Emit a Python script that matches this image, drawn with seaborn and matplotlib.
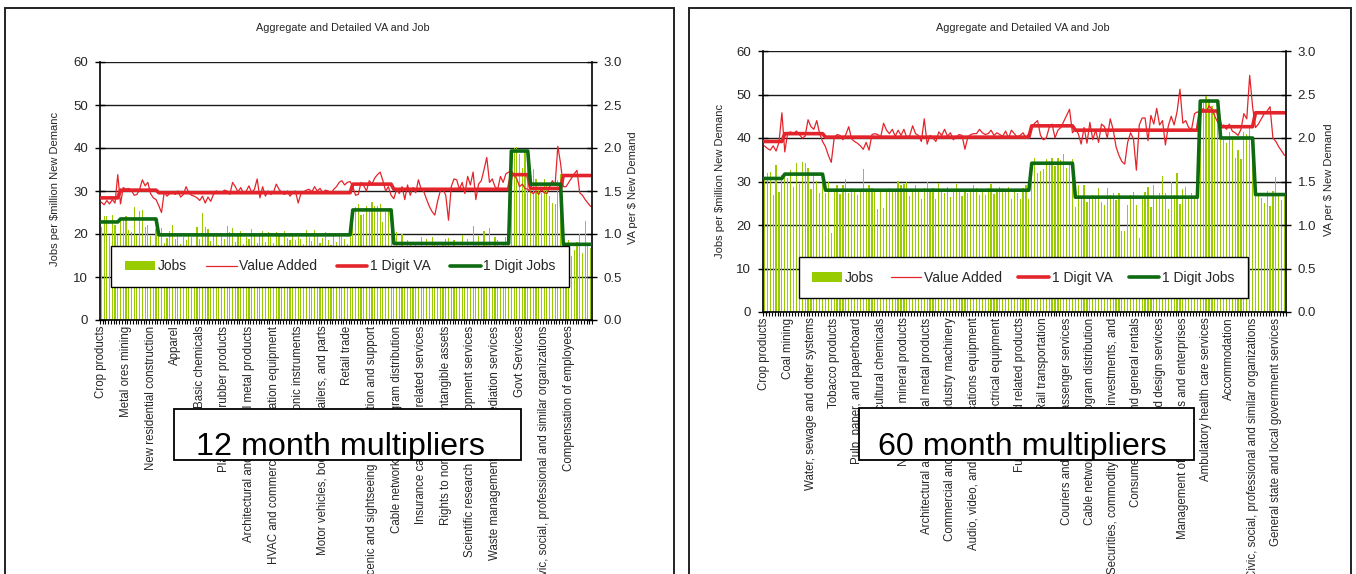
import numpy as np
import matplotlib
matplotlib.use("Agg")
import matplotlib.pyplot as plt
import seaborn as sns
from matplotlib.patches import Rectangle, Patch
from matplotlib.lines import Line2D

sns.set_style("white")
plt.rcParams["font.family"] = ["Liberation Sans", "DejaVu Sans"]

# ---------------------------------------------------------------- data
title = "Aggregate and Detailed VA and Job"
ylab_left = "Jobs per $million New Demanc"
ylab_right = "VA per $ New Demand"
legend_labels = ["Jobs", "Value Added", "1 Digit VA", "1 Digit Jobs"]
notes = ["12 month multipliers", "60 month multipliers"]

# sector groups (number of detailed sectors in each 1-digit group)
group_sizes = [7, 14, 71, 15, 43, 7, 12, 11]

# ---- 12 month panel
labels_12 = ["Crop products", "Metal ores mining", "New residential construction",
             "Apparel", "Basic chemicals", "Plastics and rubber products",
             "Architectural and structural metal products",
             "HVAC and commercial refrigeration equipment", "Electronic instruments",
             "Motor vehicles, bodies and trailers, and parts", "Retail trade",
             "Scenic and sightseeing transportation and support",
             "Cable networks and program distribution",
             "Insurance carriers and related services",
             "Rights to nonfinancial intangible assets",
             "Scientific research and development services",
             "Waste management and remediation services", "Govt Services",
             "Civic, social, professional and similar organizations",
             "Compensation of employees"]
jobs_12 = [
    21.7, 24.1, 24.3, 19.5, 24.5, 22.0, 19.8,
    23.6, 23.5, 24.3, 20.9, 20.5, 26.2, 19.8, 25.3, 25.6, 21.6, 22.0, 19.6, 17.5, 21.2,
    19.5, 21.4, 17.8, 19.0, 20.6, 22.2, 18.9, 20.3, 17.6, 19.2,
    18.5, 20.1, 19.4, 17.2, 21.6, 18.8, 24.8, 21.7, 21.2, 18.3,
    19.9, 20.3, 17.5, 19.6, 18.9, 21.9, 20.5, 21.5, 18.1, 19.7,
    20.6, 17.6, 19.4, 18.8, 21.2, 20.1, 17.9, 19.5, 20.6, 18.2,
    20.5, 19.3, 18.0, 20.4, 19.8, 17.4, 20.6, 19.0, 18.5, 20.3,
    18.7, 19.2, 18.9, 17.6, 20.9, 19.4, 18.3, 21.0, 19.6, 17.8,
    19.1, 20.4, 18.6, 17.5, 19.8, 18.2, 20.0, 19.4, 18.8, 17.6, 19.3,
    24.0, 26.2, 27.0, 24.4, 24.6, 26.6, 25.6, 27.5, 26.5, 26.4, 27.0, 22.8, 25.2, 26.1, 25.3,
    15.8, 20.5, 17.2, 20.1, 16.4, 18.6, 17.9, 16.8, 18.2, 15.9,
    19.4, 17.0, 18.8, 16.2, 19.2, 17.6, 18.1, 16.5, 17.4, 18.8,
    19.0, 16.9, 18.5, 17.1, 16.8, 19.8, 17.3, 18.9, 16.6, 21.8,
    17.5, 19.6, 16.9, 20.6, 18.2, 21.3, 17.0, 19.2, 18.5, 16.8, 17.9, 19.4, 18.0,
    34.5, 39.9, 40.3, 38.6, 35.3, 39.1, 37.8,
    33.5, 35.2, 32.8, 30.6, 29.6, 32.9, 31.8, 28.8, 27.2, 26.9, 32.5, 34.0,
    16.1, 15.2, 18.5, 14.8, 16.3, 18.2, 20.1, 15.6, 23.1, 17.4, 16.8]
va_12 = [
    1.37, 1.34, 1.39, 1.35, 1.40, 1.36, 1.69, 1.35, 1.54, 1.52,
    1.53, 1.51, 1.45, 1.46, 1.52, 1.63, 1.56, 1.60, 1.47, 1.42,
    1.40, 1.33, 1.25, 1.49, 1.44, 1.47, 1.49, 1.46, 1.50, 1.43,
    1.46, 1.55, 1.48, 1.45, 1.44, 1.42, 1.39, 1.44, 1.36, 1.43,
    1.38, 1.46, 1.50, 1.49, 1.48, 1.51, 1.50, 1.46, 1.60, 1.55,
    1.49, 1.54, 1.47, 1.50, 1.56, 1.48, 1.52, 1.64, 1.42, 1.55,
    1.44, 1.50, 1.46, 1.49, 1.58, 1.52, 1.48, 1.46, 1.50, 1.44,
    1.48, 1.50, 1.36, 1.47, 1.49, 1.51, 1.52, 1.49, 1.55, 1.50,
    1.53, 1.48, 1.51, 1.50, 1.47, 1.52, 1.55, 1.60, 1.62, 1.57,
    1.60, 1.61, 1.55, 1.45, 1.46, 1.60, 1.56, 1.50, 1.62, 1.58,
    1.65, 1.69, 1.72, 1.62, 1.50, 1.55, 1.45, 1.41, 1.52, 1.47,
    1.55, 1.40, 1.57, 1.45, 1.54, 1.48, 1.63, 1.52, 1.49, 1.40,
    1.32, 1.26, 1.22, 1.38, 1.50, 1.52, 1.45, 1.16, 1.55, 1.64,
    1.63, 1.52, 1.60, 1.47, 1.67, 1.57, 1.72, 1.40, 1.58, 1.62,
    1.75, 1.89, 1.60, 1.64, 1.55, 1.52, 1.67, 1.60, 1.70, 1.72,
    1.74, 1.68, 1.64, 1.55, 1.58, 1.53, 1.52, 1.49, 1.47, 1.50,
    1.46, 1.52, 1.48, 1.47, 1.55, 1.62, 1.57, 2.02, 1.82, 1.55,
    1.55, 1.60, 1.65, 1.70, 1.74, 1.48, 1.45, 1.40, 1.36, 1.32]
group_jobs_12 = [22.8, 23.5, 19.8, 25.6, 17.8, 39.3, 31.6, 17.6]
group_va_12 = [1.42, 1.51, 1.48, 1.58, 1.52, 1.69, 1.53, 1.68]

# ---- 60 month panel
labels_60 = ["Crop products", "Coal mining", "Water, sewage and other systems",
             "Tobacco products", "Pulp, paper, and paperboard", "Agricultural chemicals",
             "Nonmetallic mineral products", "Architectural and structural metal products",
             "Commercial and service industry machinery",
             "Audio, video, and communications equipment", "Electrical equipment",
             "Furniture and related products", "Rail transportation",
             "Couriers and ground passenger services",
             "Cable networks and program distribution",
             "Securities, commodity contracts, investments, and",
             "Consumer goods and general rentals", "Specialized design services",
             "Management of companies and enterprises",
             "Ambulatory health care services", "Accommodation",
             "Civic, social, professional and similar organizations",
             "General state and local government services"]
jobs_60 = [
    30.8, 31.9, 32.1, 26.9, 33.7, 27.7, 31.5,
    32.0, 30.8, 32.6, 28.7, 34.2, 29.4, 34.4, 34.2, 33.1, 28.3, 31.4, 30.2, 27.3, 31.0,
    27.4, 29.8, 18.1, 27.8, 29.3, 27.2, 29.1, 30.5, 27.4, 28.6,
    28.2, 26.8, 28.1, 32.8, 27.7, 29.3, 28.5, 27.7, 23.7, 28.2,
    23.9, 28.0, 28.6, 28.2, 27.5, 30.2, 29.2, 29.5, 30.0, 26.6,
    28.1, 29.1, 28.0, 25.9, 28.5, 29.8, 27.8, 28.4, 26.0, 29.7,
    28.0, 27.3, 28.7, 26.5, 28.3, 29.4, 27.6, 26.6, 28.2, 27.4,
    27.9, 29.3, 28.6, 27.0, 28.1, 26.9, 28.4, 29.4, 27.1, 27.6,
    28.8, 28.5, 27.9, 28.7, 25.9, 28.2, 27.3, 26.0, 28.6, 29.1, 26.0,
    32.4, 35.4, 31.9, 32.5, 32.8, 35.2, 34.7, 35.5, 33.6, 35.4, 34.9, 36.3, 33.0, 34.4, 35.1,
    24.1, 29.3, 26.2, 29.3, 25.3, 26.0, 27.0, 26.5, 28.4, 25.2,
    24.6, 28.5, 26.9, 27.4, 25.8, 27.3, 18.7, 18.7, 24.6, 27.0,
    27.5, 24.7, 17.0, 26.2, 27.6, 28.8, 24.1, 29.2, 26.3, 27.4,
    31.2, 27.3, 23.6, 29.9, 26.8, 31.9, 24.8, 28.3, 28.7, 26.1, 27.3, 25.9, 28.0,
    47.2, 48.1, 49.7, 48.9, 47.3, 45.8, 48.6,
    41.2, 39.6, 38.8, 41.4, 40.2, 35.4, 37.3, 35.1, 41.3, 40.9, 42.8, 38.2,
    31.5, 27.0, 26.2, 25.1, 27.9, 24.3, 27.8, 31.1, 26.8, 25.7, 27.2]
va_60 = [
    1.91, 1.88, 1.86, 1.91, 1.85, 1.95, 2.29,
    1.84, 2.06, 2.07, 2.05, 2.08, 2.04, 2.00, 2.02, 2.21, 2.13, 2.10, 2.20, 2.05, 1.96,
    1.90, 1.80, 1.72, 2.00, 2.04, 2.03, 1.98, 2.04, 2.13, 1.99,
    1.96, 1.94, 1.91, 1.87, 1.95, 1.86, 2.04, 2.05, 2.04, 2.01,
    2.17, 2.09, 2.05, 2.10, 2.02, 2.09, 2.03, 2.10, 2.00, 2.03,
    2.14, 2.05, 2.03, 1.96, 2.22, 1.93, 2.03, 2.00, 1.96, 2.07,
    2.03, 2.10, 2.02, 2.06, 1.98, 2.01, 2.04, 2.03, 1.87, 2.01,
    2.04, 2.05, 2.05, 2.10, 2.06, 2.04, 2.05, 2.09, 2.03, 2.06,
    2.04, 2.02, 2.08, 2.00, 2.09, 2.05, 2.01, 2.03, 2.06, 2.00, 2.05,
    2.13, 2.17, 2.20, 2.03, 1.98, 2.00, 2.12, 2.16, 2.00, 2.09, 2.12, 2.19, 2.26, 2.33, 2.06,
    2.10, 2.05, 1.93, 2.12, 1.94, 2.18, 1.98, 2.09, 1.95, 2.16,
    2.13, 2.00, 2.22, 2.10, 1.90, 1.80, 1.73, 1.70, 1.95, 2.06,
    1.99, 1.63, 2.15, 2.23, 2.23, 1.97, 2.26, 2.16, 2.34, 2.15,
    2.20, 1.92, 2.14, 2.25, 2.15, 2.30, 2.56, 2.17, 2.20, 2.12, 2.10, 2.28, 2.30,
    2.28, 2.34, 2.30, 2.37, 2.33, 2.25, 2.18,
    2.11, 2.15, 2.10, 2.16, 2.08, 2.06, 2.03, 2.10, 2.28, 2.22, 2.72, 2.36,
    2.12, 2.16, 2.22, 2.28, 2.31, 2.36, 2.00, 1.96, 1.90, 1.85, 1.80]
group_jobs_60 = [30.7, 31.7, 28.0, 34.2, 26.4, 48.5, 40.0, 27.0]
group_va_60 = [1.96, 2.05, 2.01, 2.14, 2.09, 2.31, 2.13, 2.29]

# ---------------------------------------------------------------- style
GREEN_BAR = "#99CC00"
RED = "#E3242B"
DKGREEN = "#0E6B12"

W, H = 1356, 574
fig = plt.figure(figsize=(W / 100, H / 100), dpi=100)


def frac_rect(x0, y0, x1, y1):
    return [x0 / W, 1 - y1 / H, (x1 - x0) / W, (y1 - y0) / H]


def panel(axrect, jobs, va, gj, gva, labels, step, legbox, frame, title_xy,
          ylx, yrx, ylab_y, yrab_y, note, notebox, note_xy):
    n = len(jobs)
    idx = np.arange(n)
    ax = fig.add_axes(frac_rect(*axrect))
    sns.barplot(x=idx, y=jobs, color=GREEN_BAR, saturation=1, width=0.42,
                linewidth=0, errorbar=None, ax=ax, zorder=2)
    ax.set_ylim(0, 60)
    ax.set_xlim(-0.5, n - 0.5)
    ax.set_yticks(np.arange(0, 61, 10))
    ax.yaxis.grid(True, color="#1a1a1a", lw=1.0, zorder=0)
    ax.set_axisbelow(True)
    ax.set_xticks(np.arange(0, n, step))
    ax.set_xticklabels(labels, rotation=90, fontsize=8.3)
    ax.set_xticks(np.arange(-0.5, n, 1), minor=True)
    ax.tick_params(axis="x", which="major", length=0, pad=4)
    ax.tick_params(axis="x", which="minor", length=3, width=0.8, direction="out",
                   color="black", bottom=True)
    ax.tick_params(axis="y", direction="inout", length=7, width=1, labelsize=9.5,
                   pad=5, color="black", left=True)
    ax.set_xlabel("")
    ax.set_ylabel("")
    for s in ["top", "right"]:
        ax.spines[s].set_visible(False)
    for s in ["left", "bottom"]:
        ax.spines[s].set_color("black")
        ax.spines[s].set_linewidth(1.2)

    ax2 = ax.twinx()
    sns.lineplot(x=idx, y=va, color=RED, lw=0.9, ax=ax2)
    sns.lineplot(x=idx, y=np.repeat(gva, group_sizes), color=RED, lw=2.6, ax=ax2)
    ax2.set_ylim(0, 3.0)
    ax2.set_yticks(np.arange(0, 3.01, 0.5))
    ax2.set_yticklabels([f"{v:.1f}" for v in np.arange(0, 3.01, 0.5)])
    ax2.tick_params(axis="y", direction="inout", length=7, width=1, labelsize=9.5,
                    pad=5, color="black", right=True)
    ax2.set_ylabel("")
    for s in ["top", "left", "bottom"]:
        ax2.spines[s].set_visible(False)
    ax2.spines["right"].set_color("black")
    ax2.spines["right"].set_linewidth(1.2)

    ax3 = ax.twinx()
    sns.lineplot(x=idx, y=np.repeat(gj, group_sizes), color=DKGREEN, lw=2.6, ax=ax3)
    ax3.set_ylim(0, 60)
    ax3.set_xlim(-0.5, n - 0.5)
    ax3.axis("off")

    handles = [Patch(facecolor=GREEN_BAR, edgecolor="none"),
               Line2D([], [], color=RED, lw=0.9),
               Line2D([], [], color=RED, lw=2.6),
               Line2D([], [], color=DKGREEN, lw=2.6)]
    leg = ax3.legend(handles, legend_labels, ncol=4, loc="center",
                     bbox_to_anchor=legbox, mode="expand", borderaxespad=0,
                     frameon=True, fancybox=False, framealpha=1, edgecolor="black",
                     fontsize=10, handlelength=2.2, handletextpad=0.2,
                     columnspacing=1.0, borderpad=0.95)
    leg.get_frame().set_linewidth(1.0)
    leg.set_zorder(20)

    fr = Rectangle((frame[0] / W, 1 - 620 / H), (frame[1] - frame[0]) / W,
                   (620 - 7.5) / H, transform=fig.transFigure, fill=False,
                   ec="#222222", lw=1.4)
    fig.add_artist(fr)
    fig.text(title_xy[0] / W, 1 - title_xy[1] / H, title, ha="center",
             va="center", fontsize=7.8)
    fig.text(ylx / W, 1 - ylab_y / H, ylab_left, rotation=90, ha="center",
             va="center", fontsize=8)
    fig.text(yrx / W, 1 - yrab_y / H, ylab_right, rotation=90, ha="center",
             va="center", fontsize=8)

    nb = Rectangle((notebox[0] / W, 1 - notebox[3] / H),
                   (notebox[2] - notebox[0]) / W, (notebox[3] - notebox[1]) / H,
                   transform=fig.transFigure, fc="white", ec="black", lw=1.3,
                   zorder=30)
    fig.add_artist(nb)
    t = fig.text(note_xy[0] / W, 1 - note_xy[1] / H, note, ha="left",
                 va="baseline", fontsize=23.2, color="black", zorder=31)
    t.set_clip_path(nb)


panel((100, 62, 592, 320), jobs_12, va_12, group_jobs_12, group_va_12, labels_12, 9,
      (0.023, 0.132, 0.93, 0.151), (5, 674), (343, 28), 55, 633, 189, 188,
      notes[0], (174, 409, 521, 460), (196, 455))
panel((763, 51, 1286, 312), jobs_60, va_60, group_jobs_60, group_va_60, labels_60, 8,
      (0.068, 0.057, 0.859, 0.15), (689, 1351), (1023, 28), 720, 1329, 181, 180,
      notes[1], (859, 408, 1194, 460), (878, 455))

fig.savefig("out.png", dpi=100)
